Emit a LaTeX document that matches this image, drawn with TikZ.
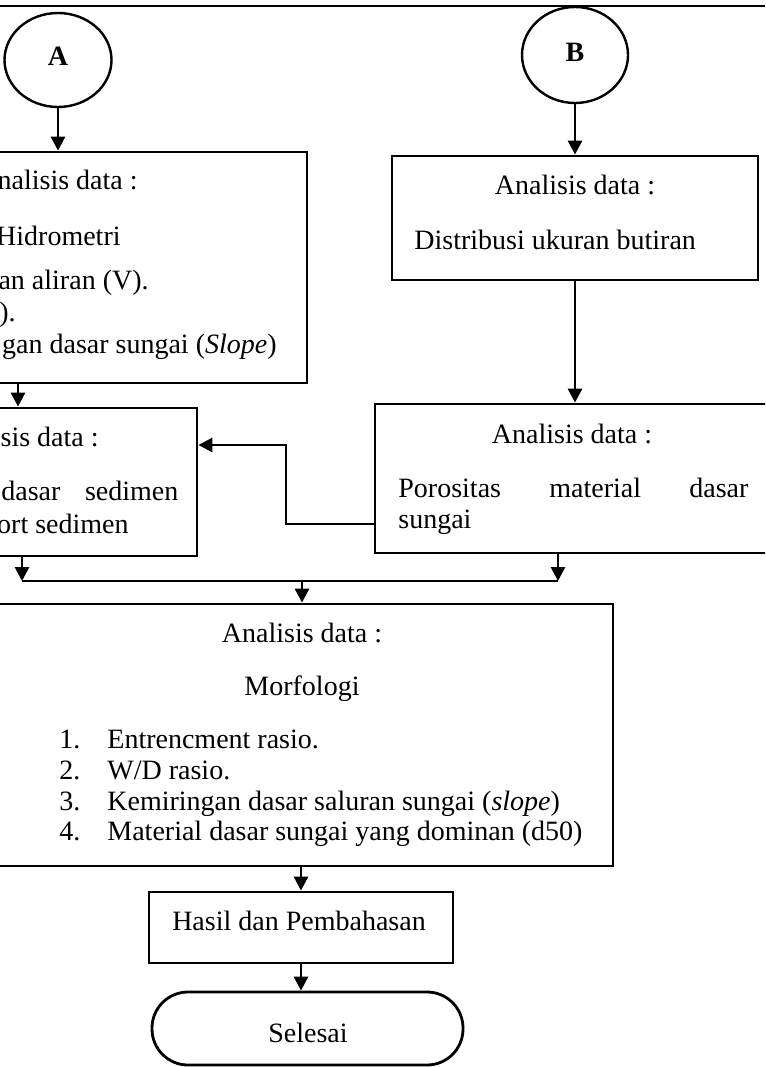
\documentclass[tikz,border=0pt]{standalone}
\usepackage{fontspec}
\setmainfont{Liberation Serif}
\usetikzlibrary{arrows.meta, shapes.geometric}

\begin{document}
\begin{tikzpicture}[x=1pt, y=-1pt, >={Stealth[length=14pt, width=14pt, inset=0pt]}, line width=2.8pt]
\tikzstyle{every node}=[font=\fontsize{28}{32}\selectfont, inner sep=0pt]
\tikzstyle{proses}=[draw=black, rectangle]
\tikzstyle{konektor}=[draw=black, line width=2.4pt, ellipse, font=\fontsize{28}{30}\selectfont\bfseries]
\tikzstyle{teks}=[anchor=base west]

\useasboundingbox (0,0) rectangle (765,1067);
\clip (0,0) rectangle (765,1067);

\draw[line width=2.2pt] (0,6) -- (765,6);

% konektor A dan B
\node[konektor, minimum width=107pt, minimum height=94pt] (a) at (58,60) {\raisebox{7pt}{A}};
\node[konektor, minimum width=106pt, minimum height=96pt] (b) at (575,55) {\raisebox{5pt}{B}};

% kotak proses
\node[proses, minimum width=327pt, minimum height=231pt] (hid) at (143.5,267.5) {};
\node[proses, minimum width=366pt, minimum height=124pt] (dist) at (575,218) {};
\node[proses, minimum width=217pt, minimum height=148pt] (sed) at (88.5,482) {};
\node[proses, minimum width=405pt, minimum height=149pt] (por) at (577.5,478.5) {};
\node[proses, minimum width=633pt, minimum height=262pt] (mor) at (296.5,735) {};
\node[proses, minimum width=304pt, minimum height=71pt] (has) at (301,927.5) {};
\node[proses, rounded corners=36pt, minimum width=311pt, minimum height=73pt] (sel) at (307.5,1028.5) {};

% isi kotak
\node[anchor=base east] (hid1) at (139,190) {nalisis data :};
\node[anchor=base east] (hid2) at (122,245) {Hidrometri};
\node[anchor=base east] (hid3) at (150,289) {an aliran (V).};
\node[anchor=base east] (hid4) at (17,321) {).};
\node[anchor=base east] (hid5) at (278,353) {gan dasar sungai (\textit{Slope})};

\node[anchor=base] (dist1) at (575,195) {Analisis data :};
\node[teks] (dist2) at (413,250) {Distribusi ukuran butiran};

\node[anchor=base east] (sed1) at (100,446) {sis data :};
\node[teks] (sed2) at (0,500) {\makebox[177pt][s]{dasar sedimen}};
\node[anchor=base east] (sed3) at (130,533) {ort sedimen};

\node[anchor=base] (por1) at (572,443) {Analisis data :};
\node[teks] (por2) at (397,497) {\makebox[350pt][s]{Porositas material dasar}};
\node[teks] (por3) at (397,528) {sungai};

\node[anchor=base] (mor1) at (302,642) {Analisis data :};
\node[anchor=base] (mor2) at (302,695) {Morfologi};
\node[teks] (n1) at (58,748) {1.};
\node[teks] (n2) at (58,779) {2.};
\node[teks] (n3) at (58,810) {3.};
\node[teks] (n4) at (58,840) {4.};
\node[teks] (m1) at (106,748) {Entrencment rasio.};
\node[teks] (m2) at (106,779) {W/D rasio.};
\node[teks] (m3) at (106,810) {Kemiringan dasar saluran sungai (\textit{slope})};
\node[teks] (m4) at (106,840) {Material dasar sungai yang dominan (d50)};

\node[anchor=base] (has1) at (299,930) {Hasil dan Pembahasan};
\node[anchor=base] (sel1) at (308,1042) {Selesai};

% titik bantu
\coordinate (xa) at (18,0);
\coordinate (gkiri) at (22,581);
\coordinate (gkanan) at (558,581);
\coordinate (gab) at (302,581);
\coordinate (belok1) at (286,524);
\coordinate (belok2) at (286,445);

% panah
\draw[->] (a.south) -- (a.south |- hid.north);
\draw[->] (b.south) -- (b.south |- dist.north);
\draw[->] (hid.south -| xa) -- (sed.north -| xa);
\draw[->] (dist.south) -- (dist.south |- por.north);
\draw[->] (por.west |- belok1) -- (belok1) -- (belok2) -- (sed.east |- belok2);
\draw[->] (sed.south -| gkiri) -- (gkiri);
\draw[->] (por.south -| gkanan) -- (gkanan);
\draw (gkiri) -- (gkanan);
\draw[->] (gab) -- (gab |- mor.north);
\draw[->] (has.north |- mor.south) -- (has.north);
\draw[->] (has.south) -- (has.south |- sel.north);
\end{tikzpicture}
\end{document}
